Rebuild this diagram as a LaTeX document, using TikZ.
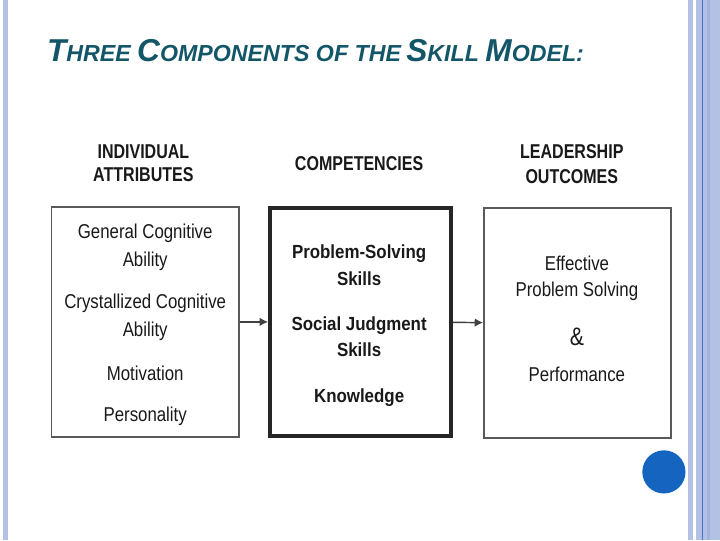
\documentclass[tikz,border=0pt]{standalone}
\usepackage{fontspec}
\usetikzlibrary{arrows.meta}
\newfontfamily\titlefont{Liberation Sans}
\newfontfamily\bodyfont[FakeStretch=0.84]{Liberation Sans}
\newfontfamily\headfont[FakeStretch=0.8]{Liberation Sans}
\newfontfamily\compfont[FakeStretch=0.89]{Liberation Sans}
\definecolor{titleteal}{RGB}{18,86,104}
\definecolor{barblue}{RGB}{178,193,228}
\definecolor{bardark}{RGB}{162,179,221}
\definecolor{barline}{RGB}{68,114,196}
\definecolor{dotblue}{RGB}{21,101,192}
\newcommand{\tcap}[1]{{\fontsize{30}{30}\selectfont #1}}
\newcommand{\tsmall}[1]{{\fontsize{22}{22}\selectfont #1}}
\tikzset{
    thinbox/.style={draw=black!65, line width=1.4pt, minimum width=6.24cm, minimum height=7.67cm, inner sep=0pt},
    thickbox/.style={draw=black!85, line width=3.8pt, minimum width=6.03cm, minimum height=7.6cm, inner sep=0pt},
    item/.style={anchor=base, inner sep=0pt, text=black!90, font=\bodyfont\fontsize{19}{19}\selectfont},
    skill/.style={anchor=base, inner sep=0pt, text=black!90, font=\compfont\bfseries\fontsize{18}{18}\selectfont},
    heading/.style={anchor=base, inner sep=0pt, text=black!90, font=\headfont\bfseries\fontsize{19}{19}\selectfont},
    link/.style={draw=black!75, line width=1.4pt, -{Latex[length=8pt, width=8pt]}},
}
\begin{document}
\begin{tikzpicture}
    \useasboundingbox (0, 0) rectangle (24, 18);

    % Slide frame
    \fill[barblue] (0.11, 0) rectangle (0.277, 18);
    \fill[barblue] (22.94, 0) rectangle (23.09, 18);
    \fill[barblue] (23.2, 0) rectangle (24, 18);
    \fill[bardark] (23.56, 0) rectangle (23.67, 18);
    \fill[barline] (23.39, 0) rectangle (23.43, 18);
    \fill[dotblue] (22.13, 2.27) circle (0.72);

    \node[anchor=base west, inner sep=0pt, text=titleteal, font=\titlefont\bfseries\itshape] (title) at (1.56, 15.94)
        {\tcap{T}\tsmall{HREE }\tcap{C}\tsmall{OMPONENTS OF THE}\tcap{\,S}\tsmall{KILL }\tcap{M}\tsmall{ODEL:}};

    % Boxes
    \node[thinbox] (attr) at (4.84, 7.27) {};
    \node[thickbox] (comp) at (12.02, 7.27) {};
    \node[thinbox] (outc) at (19.25, 7.23) {};

    \draw[link] (attr) -- (comp);
    \draw[link] (comp) -- (outc);

    % Column headings
    \node[heading] (attrhead1) at (4.78, 12.72) {INDIVIDUAL};
    \node[heading] (attrhead2) at (4.78, 11.94) {ATTRIBUTES};
    \node[heading] (comphead) at (11.97, 12.33) {COMPETENCIES};
    \node[heading] (outchead1) at (19.06, 12.72) {LEADERSHIP};
    \node[heading] (outchead2) at (19.06, 11.89) {OUTCOMES};

    % Box contents
    \foreach \y/\t [count=\i] in {10.06/General Cognitive, 9.11/Ability, 7.73/Crystallized Cognitive, 6.78/Ability, 5.33/Motivation, 3.94/Personality}
        \node[item] (attr\i) at (4.84, \y) {\t};
    \foreach \y/\t [count=\i] in {9.39/Problem-Solving, 8.5/Skills, 7.0/Social Judgment, 6.11/Skills, 4.59/Knowledge}
        \node[skill] (comp\i) at (11.97, \y) {\t};
    \foreach \y/\t [count=\i] in {9.0/Effective, 8.13/Problem Solving, 5.28/Performance}
        \node[item] (outc\i) at (19.23, \y) {\t};
    \node[item, font=\bodyfont\fontsize{24}{24}\selectfont] (outcamp) at (19.23, 6.5) {\&};
\end{tikzpicture}
\end{document}
